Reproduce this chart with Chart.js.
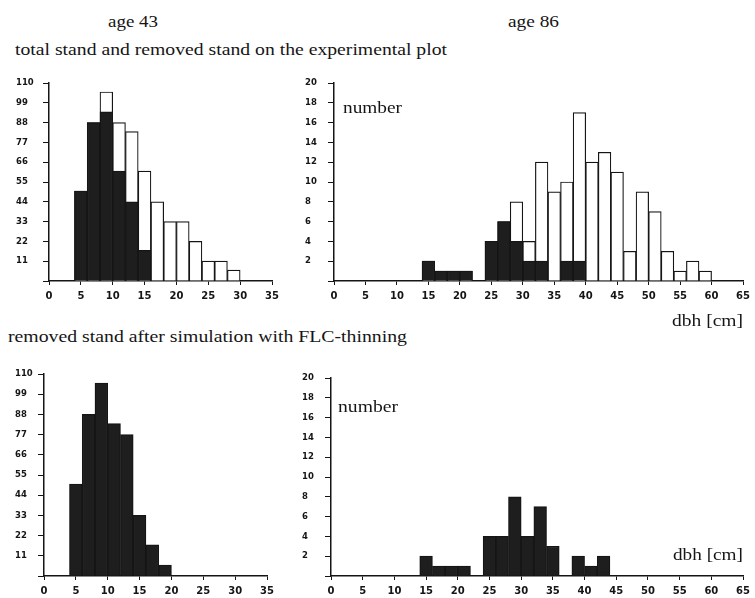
<!DOCTYPE html>
<html lang="en">
<head>
<meta charset="UTF-8">
<title>dbh distribution, age 43 and age 86</title>
<script src="https://cdn.jsdelivr.net/npm/chart.js"></script>
<style>
    body {
        margin: 0;
        background: #fff;
    }
    #page {
        position: relative;
        width: 755px;
        height: 598px;
        overflow: hidden;
        background: #fff;
    }
    canvas {
        position: absolute;
    }
    .lbl {
        position: absolute;
        font-family: 'Liberation Serif', serif;
        font-size: 17px;
        line-height: 17px;
        white-space: nowrap;
        color: #151515;
        z-index: 2;
        transform-origin: left top;
    }
</style>
</head>
<body>
<div id="page">
    <canvas id="c43" width="290" height="250" style="left:0;top:70px"></canvas>
    <canvas id="c86" width="460" height="250" style="left:295px;top:70px"></canvas>
    <canvas id="f43" width="290" height="236" style="left:0;top:362px"></canvas>
    <canvas id="f86" width="460" height="236" style="left:295px;top:362px"></canvas>

    <div class="lbl" data-w="50" style="left:108px;top:13px">age 43</div>
    <div class="lbl" data-w="51" style="left:508px;top:13px">age 86</div>
    <div class="lbl" data-w="432" style="left:15px;top:41px">total stand and removed stand on the experimental plot</div>
    <div class="lbl" data-w="59" style="left:343px;top:99px">number</div>
    <div class="lbl" data-w="71" style="left:672px;top:312px">dbh [cm]</div>
    <div class="lbl" data-w="399" style="left:8px;top:328px">removed stand after simulation with FLC-thinning</div>
    <div class="lbl" data-w="60" style="left:338px;top:398px">number</div>
    <div class="lbl" data-w="70" style="left:673px;top:546px">dbh [cm]</div>
</div>

<script>
    // dbh class midpoints (cm), 2 cm classes
    const dbh43 = [5, 7, 9, 11, 13, 15, 17, 19, 21, 23, 25, 27, 29];
    const total43 = [50, 88, 105, 88, 83, 61, 44, 33, 33, 22, 11, 11, 6];
    const removed43 = [50, 88, 94, 61, 44, 17, 0, 0, 0, 0, 0, 0, 0];
    const flc43 = [50, 88, 105, 83, 77, 33, 17, 6, 0, 0, 0, 0, 0];

    const dbh86 = [15, 17, 19, 21, 23, 25, 27, 29, 31, 33, 35, 37, 39, 41, 43, 45, 47, 49, 51, 53, 55, 57, 59];
    const total86 = [2, 1, 1, 1, 0, 4, 6, 8, 4, 12, 9, 10, 17, 12, 13, 11, 3, 9, 7, 3, 1, 2, 1];
    const removed86 = [2, 1, 1, 1, 0, 4, 6, 4, 2, 2, 0, 2, 2, 0, 0, 0, 0, 0, 0, 0, 0, 0, 0];
    const flc86 = [2, 1, 1, 1, 0, 4, 4, 8, 4, 7, 3, 0, 2, 1, 2, 0, 0, 0, 0, 0, 0, 0, 0];

    const ink = '#151515';
    const dark = '#1e1e1e';

    // the scanned serif is wider than Liberation Serif, stretch captions to their width
    document.querySelectorAll('.lbl').forEach(el => {
        const target = +el.dataset.w;
        const natural = el.getBoundingClientRect().width;
        el.style.transform = 'scaleX(' + (target / natural) + ')';
    });

    function histogram(id, opt) {
        const datasets = opt.series.map(s => ({
            data: opt.dbh.map((d, i) => ({ x: d, y: s.values[i] })),
            backgroundColor: s.fill,
            borderColor: ink,
            borderWidth: 1.2,
            grouped: false,
            barPercentage: 1,
            categoryPercentage: 1
        }));

        return new Chart(document.getElementById(id), {
            type: 'bar',
            data: { datasets },
            options: {
                responsive: false,
                animation: false,
                devicePixelRatio: 1,
                layout: { padding: opt.pad },
                plugins: {
                    legend: { display: false },
                    tooltip: { enabled: false }
                },
                scales: {
                    x: {
                        type: 'linear',
                        min: 0,
                        max: opt.xMax,
                        offset: false,
                        grid: { offset: false, drawOnChartArea: false, tickLength: 4, color: ink },
                        border: { color: ink, width: 1.5 },
                        ticks: {
                            stepSize: 5,
                            autoSkip: false,
                            maxRotation: 0,
                            padding: 5,
                            color: ink,
                            font: { family: 'DejaVu Sans', size: 10, weight: 'bold' }
                        },
                        afterFit: s => { s.height = opt.xH; }
                    },
                    y: {
                        min: 0,
                        max: opt.yMax,
                        grid: { drawOnChartArea: false, tickLength: 6, color: ink },
                        border: { color: ink, width: 1.5 },
                        ticks: {
                            stepSize: opt.yStep,
                            crossAlign: 'far',
                            color: ink,
                            font: { family: 'DejaVu Sans', size: 8.5, weight: 'bold' },
                            callback: v => v === 0 ? '' : v
                        },
                        afterFit: s => { s.width = opt.yW; }
                    }
                }
            }
        });
    }

    histogram('c43', {
        dbh: dbh43, xMax: 35, yMax: 110, yStep: 11, yW: 33, xH: 25,
        pad: { left: 16, top: 13, right: 18, bottom: 14 },
        series: [{ values: removed43, fill: dark }, { values: total43, fill: '#fff' }]
    });

    histogram('c86', {
        dbh: dbh86, xMax: 65, yMax: 20, yStep: 2, yW: 29, xH: 25,
        pad: { left: 10, top: 13, right: 8, bottom: 14 },
        series: [{ values: removed86, fill: dark }, { values: total86, fill: '#fff' }]
    });

    histogram('f43', {
        dbh: dbh43, xMax: 35, yMax: 110, yStep: 11, yW: 29, xH: 22,
        pad: { left: 15, top: 12, right: 23, bottom: 0 },
        series: [{ values: flc43, fill: dark }]
    });

    histogram('f86', {
        dbh: dbh86, xMax: 65, yMax: 20, yStep: 2, yW: 29, xH: 22,
        pad: { left: 7, top: 16, right: 11, bottom: 0 },
        series: [{ values: flc86, fill: dark }]
    });
</script>
</body>
</html>
